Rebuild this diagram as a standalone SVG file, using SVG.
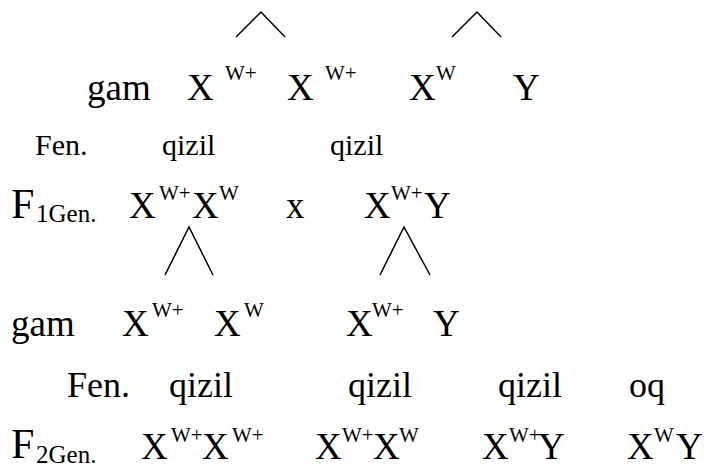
<svg xmlns="http://www.w3.org/2000/svg" width="704" height="470" viewBox="0 0 704 470" xml:lang="en">
<rect width="704" height="470" fill="#fff"/>
<g id="texts" style="font-family:'Liberation Serif','Times New Roman','DejaVu Serif',serif" fill="#000">
<g id="row1">
<text font-size="37" x="87" y="100">gam</text>
<g id="p1a"><text font-size="37"><tspan x="187" y="100">X</tspan><tspan x="225" y="80" font-size="21">W+</tspan></text></g>
<g id="p1b"><text font-size="37"><tspan x="287" y="100">X</tspan><tspan x="325" y="80" font-size="21">W+</tspan></text></g>
<g id="p2a"><text font-size="37"><tspan x="409" y="100">X</tspan><tspan x="436" y="80" font-size="21">W</tspan></text></g>
<g id="p2b"><text font-size="37" x="513" y="100">Y</text></g>
</g>
<g id="row2">
<text font-size="30" x="35" y="155">Fen.</text>
<text font-size="30" x="162" y="155">qizil</text>
<text font-size="30" x="330" y="155">qizil</text>
</g>
<g id="row3">
<g id="f1label"><text font-size="42"><tspan x="11" y="218">F</tspan><tspan x="36" y="222" font-size="25">1Gen.</tspan></text></g>
<g id="f1female"><text font-size="37"><tspan x="129" y="218">X</tspan><tspan x="159" y="200" font-size="21">W+</tspan><tspan x="192" y="218">X</tspan><tspan x="219" y="200" font-size="21">W</tspan></text></g>
<text font-size="37" x="286" y="218">x</text>
<g id="f1male"><text font-size="37"><tspan x="364" y="218">X</tspan><tspan x="391" y="200" font-size="21">W+</tspan><tspan x="424" y="218">Y</tspan></text></g>
</g>
<g id="row4">
<text font-size="37" x="11" y="336">gam</text>
<g id="g1"><text font-size="37"><tspan x="122" y="336">X</tspan><tspan x="152" y="317" font-size="21">W+</tspan></text></g>
<g id="g2"><text font-size="37"><tspan x="214" y="336">X</tspan><tspan x="244" y="317" font-size="21">W</tspan></text></g>
<g id="g3"><text font-size="37"><tspan x="346" y="336">X</tspan><tspan x="372" y="317" font-size="21">W+</tspan></text></g>
<g id="g4"><text font-size="37" x="433" y="336">Y</text></g>
</g>
<g id="row5">
<text font-size="36" x="67" y="397">Fen.</text>
<text font-size="36" x="169" y="397">qizil</text>
<text font-size="36" x="348" y="397">qizil</text>
<text font-size="36" x="498" y="397">qizil</text>
<text font-size="36" x="629" y="397">oq</text>
</g>
<g id="row6">
<g id="f2label"><text font-size="42"><tspan x="11" y="458">F</tspan><tspan x="36" y="463" font-size="25">2Gen.</tspan></text></g>
<g id="o1"><text font-size="37"><tspan x="141" y="459">X</tspan><tspan x="171" y="442" font-size="21">W+</tspan><tspan x="202" y="459">X</tspan><tspan x="232" y="442" font-size="21">W+</tspan></text></g>
<g id="o2"><text font-size="37"><tspan x="315" y="459">X</tspan><tspan x="342" y="442" font-size="21">W+</tspan><tspan x="373" y="459">X</tspan><tspan x="399" y="442" font-size="21">W</tspan></text></g>
<g id="o3"><text font-size="37"><tspan x="482" y="459">X</tspan><tspan x="509" y="442" font-size="21">W+</tspan><tspan x="538" y="459">Y</tspan></text></g>
<g id="o4"><text font-size="37"><tspan x="627" y="459">X</tspan><tspan x="654" y="442" font-size="21">W</tspan><tspan x="676" y="459">Y</tspan></text></g>
</g>
</g>
<g id="connectors" fill="none" stroke="#000" stroke-width="1.5">
<polyline points="236,37 261,12 285,37"/>
<polyline points="452,37 477,12 501,37"/>
<polyline points="165,275 189,227 213,275"/>
<polyline points="380,275 404,227 430,275"/>
</g>
</svg>
